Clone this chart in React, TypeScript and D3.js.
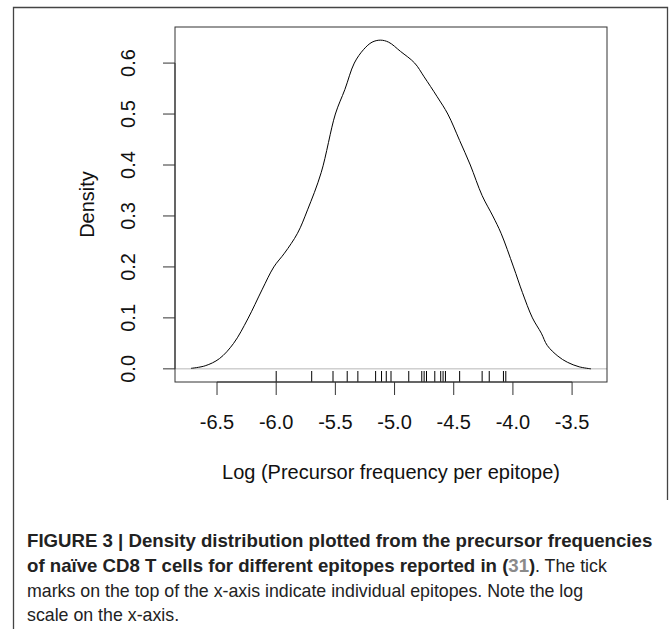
import React, { useLayoutEffect, useRef, useState } from "react";
import * as d3 from "d3";

// density curve (log10 precursor frequency vs density)
const densityX = [-6.72, -6.6, -6.48, -6.36, -6.24, -6.12, -6.02, -5.93, -5.82, -5.735, -5.62, -5.5, -5.42, -5.34, -5.26, -5.19, -5.12, -5.05, -4.95, -4.83, -4.75, -4.64, -4.55, -4.45, -4.36, -4.26, -4.17, -4.1, -3.995, -3.92, -3.835, -3.76, -3.71, -3.62, -3.54, -3.44, -3.34];
const densityY = [0.001, 0.006, 0.02, 0.05, 0.098, 0.155, 0.2, 0.227, 0.266, 0.312, 0.385, 0.5, 0.548, 0.6, 0.627, 0.641, 0.645, 0.641, 0.623, 0.6, 0.573, 0.534, 0.5, 0.448, 0.4, 0.34, 0.3, 0.266, 0.2, 0.15, 0.1, 0.07, 0.046, 0.025, 0.013, 0.004, 0.0];

// individual epitopes (rug)
const epitopes = [-6.0, -5.7, -5.52, -5.4, -5.31, -5.16, -5.11, -5.07, -5.03, -4.88, -4.77, -4.75, -4.73, -4.66, -4.61, -4.59, -4.57, -4.45, -4.26, -4.2, -4.08, -4.06];

const xTicks = [-6.5, -6.0, -5.5, -5.0, -4.5, -4.0, -3.5];
const yTicks = [0.0, 0.1, 0.2, 0.3, 0.4, 0.5, 0.6];

const xLabel = "Log (Precursor frequency per epitope)";
const yLabel = "Density";

const W = 671;
const H = 629;
const box = { left: 175, right: 607, top: 27, bottom: 382 };
const font = "'Liberation Sans', Arial, Helvetica, sans-serif";

export default function App() {
  const x = d3.scaleLinear().domain([-6.855, -3.205]).range([box.left, box.right]);
  const y = d3.scaleLinear().domain([-0.0258, 0.6708]).range([box.bottom, box.top]);

  const pts = densityX.map((d, i) => [d, densityY[i]] as [number, number]);
  const line = d3.line<[number, number]>()
    .x(d => x(d[0]))
    .y(d => y(d[1]))
    .curve(d3.curveCatmullRom.alpha(0.5));

  const rugLen = 11;

  // the caption face is condensed: squeeze bold and regular text separately
  const boldRef = useRef<SVGTextElement>(null);
  const regRef = useRef<SVGTextElement>(null);
  const bold2Ref = useRef<SVGTextElement>(null);
  const [fit, setFit] = useState({ kb: 0.85, kr: 0.8, w2: 500 });
  useLayoutEffect(() => {
    const wb = boldRef.current ? boldRef.current.getComputedTextLength() : 0;
    const wr = regRef.current ? regRef.current.getComputedTextLength() : 0;
    const w2 = bold2Ref.current ? bold2Ref.current.getComputedTextLength() : 0;
    if (wb > 0 && wr > 0) setFit({ kb: 625 / wb, kr: 556 / wr, w2 });
  }, []);
  const { kb, kr, w2 } = fit;
  const tickX = 27 + kb * w2;

  return (
    <svg width={W} height={H} style={{ position: "absolute", left: 0, top: 0, background: "#fff" }}>
      {/* outer frame */}
      <path d={`M13.5,${H} V7.5 H667.5 V500`} fill="none" stroke="#444" strokeWidth={1.3} />

      {/* baseline at zero */}
      <line x1={box.left} x2={box.right} y1={y(0)} y2={y(0)} stroke="#b8b8b8" strokeWidth={1} />

      {/* density curve */}
      <path d={line(pts) || ""} fill="none" stroke="#000" strokeWidth={1} />

      {/* rug */}
      {epitopes.map((e, i) => (
        <line key={i} x1={x(e)} x2={x(e)} y1={box.bottom} y2={box.bottom - rugLen} stroke="#000" strokeWidth={1} />
      ))}

      {/* plot box */}
      <rect x={box.left} y={box.top} width={box.right - box.left} height={box.bottom - box.top}
        fill="none" stroke="#333" strokeWidth={1} />

      {/* x axis */}
      <g fontFamily={font} fontSize={20} fill="#111">
        <line x1={x(xTicks[0])} x2={x(xTicks[xTicks.length - 1])} y1={box.bottom} y2={box.bottom} stroke="#333" />
        {xTicks.map(t => (
          <g key={t}>
            <line x1={x(t)} x2={x(t)} y1={box.bottom} y2={box.bottom + 13} stroke="#333" />
            <text x={x(t)} y={429} textAnchor="middle">{t.toFixed(1)}</text>
          </g>
        ))}
        <text x={(box.left + box.right) / 2} y={479} textAnchor="middle">{xLabel}</text>
      </g>

      {/* y axis */}
      <g fontFamily={font} fontSize={20} fill="#111">
        <line x1={box.left} x2={box.left} y1={y(yTicks[0])} y2={y(yTicks[yTicks.length - 1])} stroke="#333" />
        {yTicks.map(t => (
          <g key={t}>
            <line x1={box.left} x2={box.left - 12} y1={y(t)} y2={y(t)} stroke="#333" />
            <text transform={`translate(135,${y(t)}) rotate(-90)`} textAnchor="middle">{t.toFixed(1)}</text>
          </g>
        ))}
        <text transform={`translate(94,${(box.top + box.bottom) / 2}) rotate(-90)`} textAnchor="middle">{yLabel}</text>
      </g>

      {/* caption */}
      <g fontFamily={font} fontSize={18} fill="#222">
        <g transform={`translate(27,0) scale(${kb},1)`} fontWeight="bold">
          <text ref={boldRef} x={0} y={547}>
            FIGURE 3 | Density distribution plotted from the precursor frequencies
          </text>
          <text ref={bold2Ref} x={0} y={572}>
            of naïve CD8 T cells for different epitopes reported in (<tspan fill="#8a8a8a">31</tspan>)
          </text>
        </g>
        <g transform={`translate(${tickX},0) scale(${kr},1)`}>
          <text x={0} y={572}>. The tick</text>
        </g>
        <g transform={`translate(27,0) scale(${kr},1)`}>
          <text ref={regRef} x={0} y={597}>
            marks on the top of the x-axis indicate individual epitopes. Note the log
          </text>
          <text x={0} y={621}>scale on the x-axis.</text>
        </g>
      </g>
    </svg>
  );
}
